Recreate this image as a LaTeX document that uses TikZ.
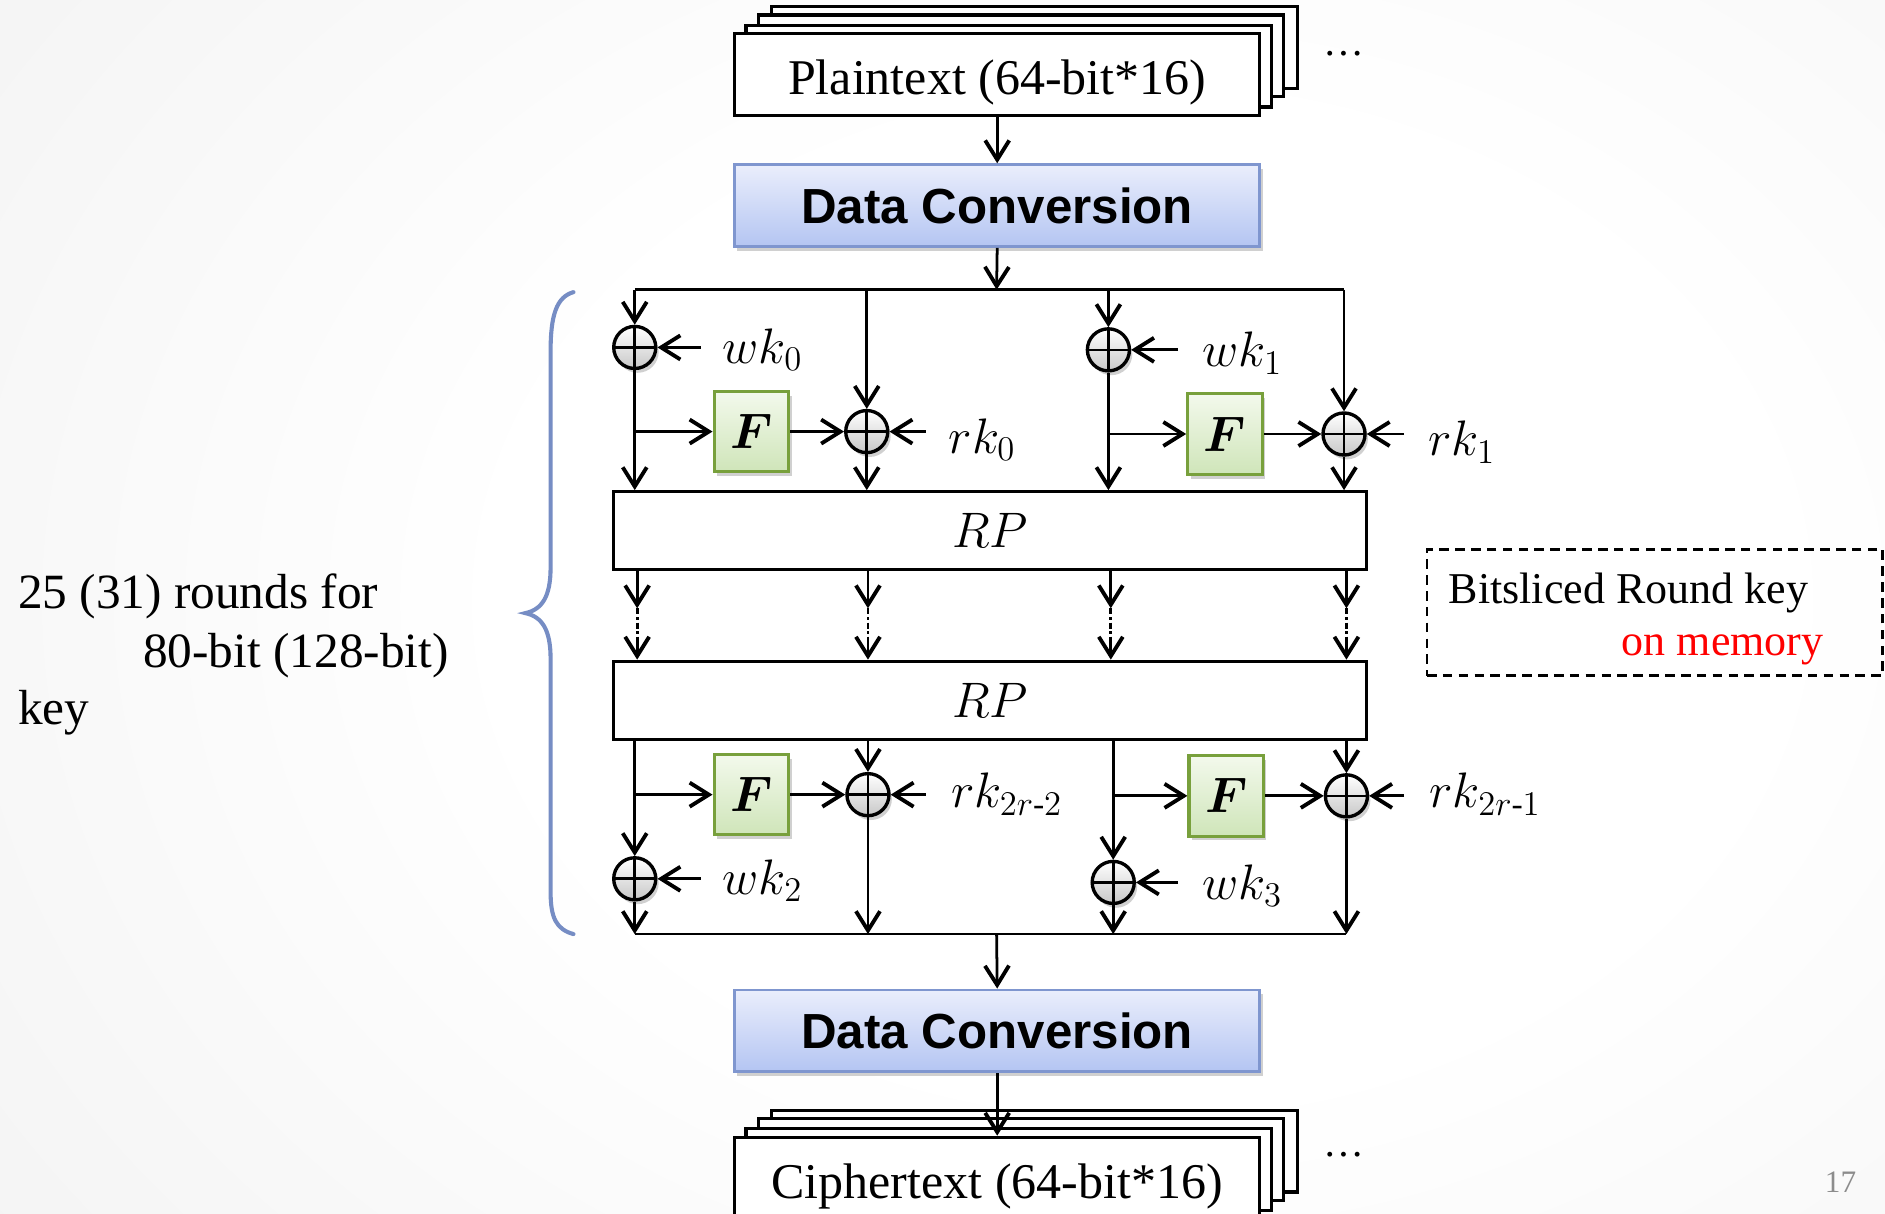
\documentclass[tikz,border=0pt]{standalone}
\usepackage{amsmath,bm}
\usepackage{fontspec}
\setmainfont{Liberation Serif}
\newfontfamily\headfont{Liberation Sans}
\usetikzlibrary{arrows.meta,shadows,calc}

\definecolor{dcTop}{HTML}{EAEEFC}
\definecolor{dcBot}{HTML}{B4C5F2}
\definecolor{dcBorder}{HTML}{7F96CF}
\definecolor{fTop}{HTML}{F3F9EC}
\definecolor{fBot}{HTML}{CFE5B9}
\definecolor{fBorder}{HTML}{78A03C}
\definecolor{xorBot}{HTML}{C8C8C8}
\definecolor{braceBlue}{HTML}{768DC4}
\definecolor{memRed}{HTML}{FF0000}

\pgfdeclareradialshading{slidebg}{\pgfpoint{0bp}{0bp}}{%
  color(0bp)=(white); color(12bp)=(white); color(50bp)=(black!11)}

\begin{document}
\begin{tikzpicture}[
  x=0.5pt, y=-0.5pt,
  line width=1.15pt,
  arr/.style={-{Straight Barb[length=8pt,width=10pt,line width=1.6pt]}},
  softshadow/.style={drop shadow={shadow xshift=1.2pt, shadow yshift=-1.8pt, opacity=0.3, fill=black!60}},
  stackbox/.style={draw, line width=1.3pt, fill=white, minimum width=218.5pt,
    minimum height=34pt, inner sep=0pt},
  stacktext/.style={anchor=base, inner sep=0pt, font=\fontsize{20.8}{24}\selectfont},
  convbox/.style={draw=dcBorder, line width=1.2pt, top color=dcTop, bottom color=dcBot,
    minimum width=218.5pt, minimum height=34pt, inner sep=0pt, softshadow,
    font=\headfont\bfseries\fontsize{20.5}{24}\selectfont},
  fnbox/.style={draw=fBorder, line width=1.3pt, top color=fTop, bottom color=fBot,
    minimum width=31pt, minimum height=33.5pt, inner sep=0pt, softshadow,
    font=\fontsize{22}{24}\selectfont},
  xorc/.style={circle, draw, line width=1.4pt, top color=white, bottom color=xorBot,
    minimum size=17.5pt, inner sep=0pt, softshadow,
    path picture={\draw[line width=1.1pt]
      (path picture bounding box.north) -- (path picture bounding box.south)
      (path picture bounding box.west) -- (path picture bounding box.east);}},
  rpbox/.style={draw, line width=1.3pt, fill=white, minimum width=313.5pt,
    minimum height=32.5pt, inner sep=0pt, font=\fontsize{21}{24}\selectfont},
  keylabel/.style={anchor=base west, inner sep=0pt, font=\fontsize{20}{24}\selectfont},
  slidetext/.style={anchor=base west, inner sep=0pt, font=\fontsize{20.5}{24}\selectfont},
  memtext/.style={inner sep=0pt, font=\fontsize{18.3}{22}\selectfont},
  gapline/.style={line width=1.2pt, dash pattern=on 2.5pt off 1.2pt on 1pt off 1.2pt},
]
\useasboundingbox (0,0) rectangle (1568,1009);
\clip (0,0) rectangle (1568,1009);

% slide background
\shade[shading=slidebg] (-150,-350) rectangle (2050,1350);

% ---------- plaintext stack ----------
\node[stackbox] (pt4) at (860.5,39.5) {};
\node[stackbox] (pt3) at (849.5,46.5) {};
\node[stackbox] (pt2) at (839,55) {};
\node[stackbox] (pt) at (829.5,62) {};
\node[stacktext] (ptText) at (829.5,79) {Plaintext (64-bit*16)};
\node[anchor=base, inner sep=0pt, font=\fontsize{17}{20}\selectfont] (dotsA) at (1118,46) {\ldots};

% ---------- data conversion (in) ----------
\node[convbox] (dc1) at (829.5,171) {Data Conversion};
\draw[arr] (pt.south) -- (dc1.north);

% ---------- first round ----------
\coordinate (busT) at (829,241);
\node[xorc] (xw0) at (528,289) {};
\node[xorc] (xr0) at (721,359) {};
\node[xorc] (xw1) at (922,291) {};
\node[xorc] (xr1) at (1118,361) {};
\node[fnbox] (f1) at (625,359) {$\bm{F}$};
\node[fnbox] (f2) at (1019,361) {$\bm{F}$};
\node[rpbox] (rp1) at (823.5,441.5) {$RP$};

\draw[arr] (dc1.south) -- (busT);
\draw (xw0 |- busT) -- (xr1 |- busT);
\draw[arr] (xw0 |- busT) -- (xw0.north);
\draw[arr] (xr0 |- busT) -- (xr0.north);
\draw[arr] (xw1 |- busT) -- (xw1.north);
\draw[arr] (xr1 |- busT) -- (xr1.north);

\draw[arr] (xw0.south) -- (xw0 |- rp1.north);
\draw[arr] (xw0 |- f1.west) -- (f1.west);
\draw[arr] (f1.east) -- (xr0.west);
\draw[arr] (xr0.south) -- (xr0 |- rp1.north);
\draw[arr] (xw1.south) -- (xw1 |- rp1.north);
\draw[arr] (xw1 |- f2.west) -- (f2.west);
\draw[arr] (f2.east) -- (xr1.west);
\draw[arr] (xr1.south) -- (xr1 |- rp1.north);

\coordinate (kw0) at (583,289);
\coordinate (kr0) at (770,359);
\coordinate (kw1) at (980,291);
\coordinate (kr1) at (1168,361);
\draw[arr] (kw0) -- (xw0.east);
\draw[arr] (kr0) -- (xr0.east);
\draw[arr] (kw1) -- (xw1.east);
\draw[arr] (kr1) -- (xr1.east);
\node[keylabel] (lw0) at (600,302) {$wk_0$};
\node[keylabel] (lr0) at (788,377) {$rk_0$};
\node[keylabel] (lw1) at (999,305) {$wk_1$};
\node[keylabel] (lr1) at (1187,379) {$rk_1$};

% ---------- rounds in between ----------
\node[rpbox] (rp2) at (823.5,582.5) {$RP$};
\foreach \n/\x in {1/530,2/722,3/924,4/1120}{
  \coordinate (ga\n) at (\x,506);
  \coordinate (gb\n) at (\x,530);
  \draw[arr] (rp1.south -| ga\n) -- (ga\n);
  \draw[gapline] (ga\n) -- (gb\n);
  \draw[arr] (gb\n) -- (rp2.north -| gb\n);
}

% ---------- last round ----------
\coordinate (busB) at (829,777);
\node[xorc] (xr2) at (722,661) {};
\node[xorc] (xr3) at (1120,662) {};
\node[xorc] (xw2) at (528,731) {};
\node[xorc] (xw3) at (926,734) {};
\node[fnbox] (f3) at (625,661) {$\bm{F}$};
\node[fnbox] (f4) at (1020,662) {$\bm{F}$};

\draw[arr] (xw2 |- rp2.south) -- (xw2.north);
\draw[arr] (xw2 |- f3.west) -- (f3.west);
\draw[arr] (f3.east) -- (xr2.west);
\draw[arr] (xr2 |- rp2.south) -- (xr2.north);
\draw[arr] (xw3 |- rp2.south) -- (xw3.north);
\draw[arr] (xw3 |- f4.west) -- (f4.west);
\draw[arr] (f4.east) -- (xr3.west);
\draw[arr] (xr3 |- rp2.south) -- (xr3.north);

\draw (xw2 |- busB) -- (xr3 |- busB);
\draw[arr] (xw2.south) -- (xw2 |- busB);
\draw[arr] (xr2.south) -- (xr2 |- busB);
\draw[arr] (xw3.south) -- (xw3 |- busB);
\draw[arr] (xr3.south) -- (xr3 |- busB);

\coordinate (kr2) at (770,661);
\coordinate (kr3) at (1168,662);
\coordinate (kw2) at (583,731);
\coordinate (kw3) at (980,734);
\draw[arr] (kr2) -- (xr2.east);
\draw[arr] (kr3) -- (xr3.east);
\draw[arr] (kw2) -- (xw2.east);
\draw[arr] (kw3) -- (xw3.east);
\node[keylabel] (lr2) at (790,672) {$rk_{2r\text{-}2}$};
\node[keylabel] (lr3) at (1188,672) {$rk_{2r\text{-}1}$};
\node[keylabel] (lw2) at (600,744) {$wk_2$};
\node[keylabel] (lw3) at (999,748) {$wk_3$};

% ---------- data conversion (out) ----------
\node[convbox] (dc2) at (829.5,857.5) {Data Conversion};
\draw[arr] (busB) -- (dc2.north);

% ---------- ciphertext stack ----------
\node[stackbox] (ct4) at (860.5,957.5) {};
\node[stackbox] (ct3) at (849.5,964.5) {};
\node[stackbox] (ct2) at (839,973) {};
\node[stackbox] (ct) at (829.5,980) {};
\node[stacktext] (ctText) at (829.5,997) {Ciphertext (64-bit*16)};
\node[anchor=base, inner sep=0pt, font=\fontsize{17}{20}\selectfont] (dotsB) at (1118,962) {\ldots};
\draw[arr] (dc2.south) -- (ct.north);

% ---------- round brace and its note ----------
\draw[braceBlue, line width=1.7pt, line cap=round]
  (477,243) .. controls (463,247) and (458,262) .. (458,292)
  -- (458,472) .. controls (458,496) and (451,507) .. (437,510)
  .. controls (451,513) and (458,524) .. (458,548)
  -- (458,742) .. controls (458,764) and (463,773) .. (477,777);
\node[slidetext] (rounds1) at (14,506) {25 (31) rounds for};
\node[slidetext] (rounds2) at (118,555) {80-bit (128-bit)};
\node[slidetext] (rounds3) at (14,603) {key};

% ---------- round key storage note ----------
\node[draw, line width=1.1pt, dash pattern=on 4pt off 2.6pt,
  minimum width=189.5pt, minimum height=52.5pt, inner sep=0pt] (mem) at (1376.5,509.5) {};
\node[memtext, anchor=base west] (memA) at (1204,502) {Bitsliced Round key};
\node[memtext, anchor=base east, text=memRed] (memB) at (1518,545) {on memory};

% page number
\node[text=black!45, font=\fontsize{13}{15}\selectfont, inner sep=0pt] (pg) at (1531,983) {17};
\end{tikzpicture}
\end{document}
